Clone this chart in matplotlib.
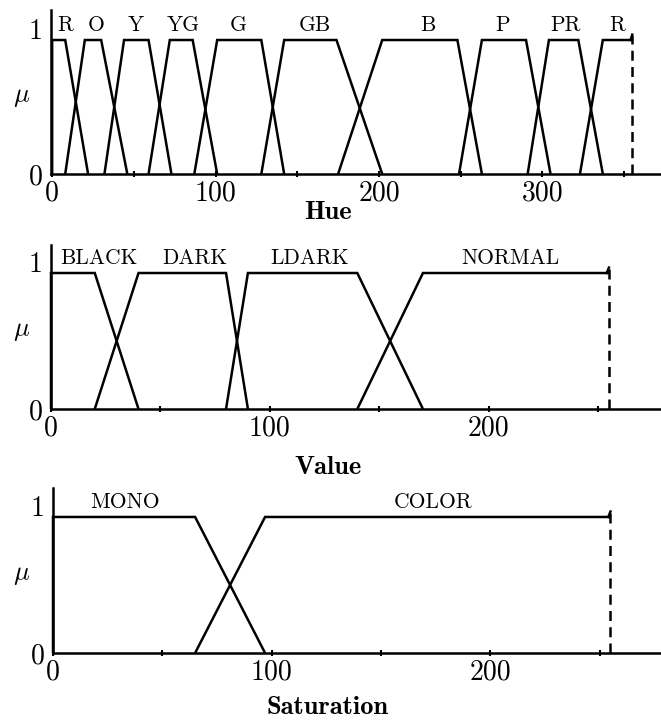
import matplotlib
matplotlib.use("Agg")
import matplotlib.pyplot as plt
from matplotlib.transforms import ScaledTranslation

plt.rcParams["mathtext.fontset"] = "cm"
plt.rcParams["axes.unicode_minus"] = False

# ---- fuzzy membership functions (trapezoids a-b-c-d) ----
hue_names = ["R", "O", "Y", "YG", "G", "GB", "B", "P", "PR", "R"]
hue_a = [0, 8, 32, 59, 87, 128, 175, 249, 291, 323]
hue_b = [0, 20, 44, 72, 101, 142, 202, 263, 304, 337]
hue_c = [8, 30, 59, 86, 128, 174, 248, 290, 322, 355]
hue_d = [22, 46, 73, 101, 142, 202, 263, 305, 337, 355]
hue_label_x = [8, 27, 51, 80, 114, 161, 230, 276, 314, 346]
hue_max = 355
hue_ticks = [0, 100, 200, 300]

value_names = ["BLACK", "DARK", "LDARK", "NORMAL"]
value_a = [0, 20, 80, 140]
value_b = [0, 40, 90, 170]
value_c = [20, 80, 140, 255]
value_d = [40, 90, 170, 255]
value_label_x = [22, 66, 118, 210]
value_max = 255
value_ticks = [0, 100, 200]

sat_names = ["MONO", "COLOR"]
sat_a = [0, 65]
sat_b = [0, 97]
sat_c = [65, 255]
sat_d = [97, 255]
sat_label_x = [33, 174]
sat_max = 255
sat_ticks = [0, 100, 200]

W, H = 661, 722
fig = plt.figure(figsize=(W / 100, H / 100), dpi=100)

LW = 1.8
TICK_FS = 20
NAME_FS = 15.5
TITLE_FS = 19


def add_axes_px(left, right, bottom, top):
    return fig.add_axes([left / W, 1 - bottom / H, (right - left) / W, (bottom - top) / H])


def draw_panel(ax, names, a, b, c, d, label_x, vmax, ticks, xlim, ytop):
    for i in range(len(names)):
        xs = [a[i], b[i], c[i], d[i]]
        ys = [0, 1, 1, 0]
        if c[i] == d[i]:
            xs, ys = xs[:3], ys[:3]
        ax.plot(xs, ys, color="black", lw=LW, solid_joinstyle="miter",
                solid_capstyle="butt", clip_on=False)
        ax.text(label_x[i], 1.11, names[i], ha="center", va="center",
                fontsize=NAME_FS, family="cmr10")
    # upper end of the range
    ax.plot([vmax, vmax], [0, 1.04], color="black", lw=LW, ls=(0, (4, 2.5)))
    ax.plot([vmax - 1, vmax], [1.0, 1.04], color="black", lw=LW)

    ax.set_xlim(*xlim)
    ax.set_ylim(0, ytop)
    ax.set_xticks(ticks)
    ax.set_xticklabels([str(t) for t in ticks], family="cmr10", fontsize=TICK_FS)
    minor = [t + 50 for t in ticks if t + 50 <= vmax]
    ax.set_xticks(minor, minor=True)
    ax.tick_params(axis="x", which="both", direction="inout", length=5,
                   width=1.5, pad=2)
    ax.set_yticks([0, 1])
    ax.set_yticklabels(["0", "1"], family="cmr10", fontsize=TICK_FS)
    ax.tick_params(axis="y", length=0, pad=6)
    one = ax.get_yticklabels()[1]
    one.set_transform(one.get_transform() + ScaledTranslation(0, 8 / 72, fig.dpi_scale_trans))
    for s in ("top", "right"):
        ax.spines[s].set_visible(False)
    for s in ("left", "bottom"):
        ax.spines[s].set_linewidth(LW)
        ax.spines[s].set_color("black")
    ax.patch.set_visible(False)


# Hue
ax1 = add_axes_px(51, 661, 174, 10)
draw_panel(ax1, hue_names, hue_a, hue_b, hue_c, hue_d, hue_label_x,
           hue_max, hue_ticks, (-0.7, 372.6), 1.224)

# Value
ax2 = add_axes_px(51, 661, 409, 245)
draw_panel(ax2, value_names, value_a, value_b, value_c, value_d, value_label_x,
           value_max, value_ticks, (0, 278.8), 1.206)

# Saturation
ax3 = add_axes_px(53, 661, 653, 488)
draw_panel(ax3, sat_names, sat_a, sat_b, sat_c, sat_d, sat_label_x,
           sat_max, sat_ticks, (0, 278.1), 1.213)

for title, ty, muy in (("Hue", 212, 96), ("Value", 467, 330), ("Saturation", 707, 574)):
    fig.text(328 / W, 1 - ty / H, title, ha="center", va="center",
             fontsize=TITLE_FS, family="cmb10")
    fig.text(22 / W, 1 - muy / H, r"$\mu$", ha="center", va="center", fontsize=19)

fig.savefig("out.png", dpi=100)
